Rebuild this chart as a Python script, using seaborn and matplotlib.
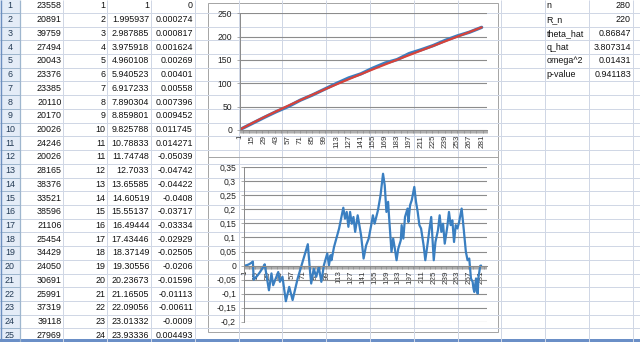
import matplotlib
matplotlib.use("Agg")
import matplotlib.pyplot as plt
from matplotlib.patches import Rectangle
import seaborn as sns

# spreadsheet columns (rows 1-25)
row_numbers = list(range(1, 26))
col_a = [23558, 20891, 39759, 27494, 20043, 23376, 23385, 20110, 20170, 20026, 24246, 20026,
         28165, 38376, 33521, 38596, 21106, 25454, 34429, 24050, 30691, 25991, 37319, 39118, 27969]
col_b = [1, 2, 3, 4, 5, 6, 7, 8, 9, 10, 11, 11, 12, 13, 14, 15, 16, 17, 18, 19, 20, 21, 22, 23, 24]
col_c = ["1", "1.995937", "2.987885", "3.975918", "4.960108", "5.940523", "6.917233", "7.890304",
         "8.859801", "9.825788", "10.78833", "11.74748", "12.7033", "13.65585", "14.60519",
         "15.55137", "16.49444", "17.43446", "18.37149", "19.30556", "20.23673", "21.16505",
         "22.09056", "23.01332", "23.93336"]
col_d = ["0", "0.000274", "0.000817", "0.001624", "0.00269", "0.00401", "0.00558", "0.007396",
         "0.009452", "0.011745", "0.014271", "-0.05039", "-0.04742", "-0.04422", "-0.0408",
         "-0.03717", "-0.03334", "-0.02929", "-0.02505", "-0.0206", "-0.01596", "-0.01113",
         "-0.00611", "-0.0009", "0.004493"]

stat_names = ["n", "R_n", "theta_hat", "q_hat", "omega^2", "p-value"]
stat_values = ["280", "220", "0.86847", "3.807314", "0.01431", "0.941183"]

# top chart (read at the labelled categories)
top_idx = [1, 15, 29, 43, 57, 71, 85, 99, 113, 127, 141, 155, 169, 183, 197, 211, 225, 239, 253, 267, 281]
expected_vals = [1, 14.6, 27.5, 40.0, 52.2, 64.0, 75.6, 86.9, 98.0, 108.8, 119.5, 130.0,
                 140.3, 150.4, 160.4, 170.4, 180.3, 190.2, 200.1, 210.0, 219.9]
observed_vals = [1, 13.9, 26.9, 39.3, 50.4, 64.0, 75.0, 87.5, 99.9, 111.5, 120.2, 132.5,
                 143.3, 150.8, 163.7, 171.9, 181.0, 192.1, 201.6, 209.6, 219.9]

# bottom chart: first 25 rows from column E, rest
diff_idx = row_numbers + [
    30, 33, 35, 41, 43, 46, 50, 54, 58, 64, 76, 79, 80, 83, 86, 89, 92, 95, 99, 101, 103, 104,
    107, 113, 118, 120, 122, 124, 126, 128, 130, 132, 135, 137, 139, 142, 145, 148, 151, 153,
    155, 159, 162, 165, 167, 169, 171, 172, 175, 177, 179, 181, 183, 186, 187, 189, 191, 194,
    195, 197, 199, 202, 204, 206, 208, 210, 213, 215, 218, 220, 222, 225, 227, 230, 232, 234,
    236, 238, 241, 243, 245, 247, 249, 251, 253, 255, 258, 260, 263, 265, 267, 269, 271, 272,
    273, 275, 276, 277, 278, 280, 281]
diff_vals = [float(v) for v in col_d] + [
    -0.088, -0.028, -0.070, -0.023, -0.058, -0.040, -0.127, -0.076, -0.123, -0.046, 0.076,
    -0.034, -0.064, -0.011, -0.040, -0.005, -0.058, 0.001, 0.043, 0.001, 0.037, 0.019,
    0.066, 0.132, 0.206, 0.167, 0.191, 0.138, 0.191, 0.149, 0.173, 0.120, 0.179, 0.144,
    0.108, 0.025, 0.072, 0.096, 0.144, 0.179, 0.149, 0.197, 0.250, 0.327, 0.286, 0.191,
    0.227, 0.179, 0.049, 0.096, 0.060, 0.019, 0.060, 0.090, 0.144, 0.096, 0.173, 0.203,
    0.155, 0.215, 0.233, 0.280, 0.227, 0.191, 0.144, 0.132, 0.072, 0.019, 0.084, 0.132,
    0.173, 0.019, 0.084, 0.126, 0.179, 0.120, 0.149, 0.078, 0.138, 0.191, 0.144, 0.161,
    0.084, 0.144, 0.132, 0.155, 0.203, 0.144, 0.049, 0.019, 0.025, -0.046, -0.058, -0.082,
    -0.094, -0.046, -0.088, -0.100, -0.040, -0.001, 0.0]

x_tick_pos = list(range(1, 282, 14))
x_tick_labels = [str(v) for v in x_tick_pos]
top_yticks = [0, 50, 100, 150, 200, 250]
bot_yticks = [-0.2, -0.15, -0.1, -0.05, 0, 0.05, 0.1, 0.15, 0.2, 0.25, 0.3, 0.35]
bot_ylabels = ["-0,2", "-0,15", "-0,1", "-0,05", "0", "0,05", "0,1", "0,15", "0,2", "0,25", "0,3", "0,35"]
n_categories = 287

BLUE = "#3a7fc1"
RED = "#d8433a"
GRID = "#8c8c8c"
SHEET_GRID = "#d0d7e5"
TXT = "#111111"

W, H = 640, 342
ROW_H = 13.72
ROW0 = 6.0
COL_EDGES = [19.5 + 43.8 * k for k in range(15)]

sns.set_theme(style="white")
plt.rcParams["font.family"] = ["Liberation Sans", "DejaVu Sans"]

fig = plt.figure(figsize=(W / 100, H / 100), dpi=100)


def px_axes(left, top, right, bottom):
    return fig.add_axes([left / W, 1 - bottom / H, (right - left) / W, (bottom - top) / H])


# spreadsheet background
sheet = fig.add_axes([0, 0, 1, 1])
sheet.set_xlim(0, W)
sheet.set_ylim(H, 0)
sheet.axis("off")
sheet.add_patch(Rectangle((0, 0), 19.5, H, facecolor="#e4ecf7", edgecolor="none"))
for k in range(27):
    y = ROW0 - ROW_H / 2 + ROW_H * k
    sheet.hlines(y, 19.5, W, color=SHEET_GRID, lw=0.72)
    sheet.hlines(y, 0, 19.5, color="#9eb6ce", lw=0.72)
for x in COL_EDGES[1:]:
    sheet.vlines(x, 0, H, color=SHEET_GRID, lw=0.72)
sheet.vlines(19.5, 0, H, color="#9eb6ce", lw=0.9)
sheet.vlines(0.6, 0, H, color="#6d8fbf", lw=1.0)
sheet.add_patch(Rectangle((0, 339), W, 3, facecolor="#6a8fc7", edgecolor="none"))

fs = 6.4
for i, r in enumerate(row_numbers):
    y = ROW0 + ROW_H * i
    sheet.text(10, y, str(r), ha="center", va="center", fontsize=fs, color="#243b55")
    sheet.text(61.5, y, str(col_a[i]), ha="right", va="center", fontsize=fs, color=TXT)
    sheet.text(105.5, y, str(col_b[i]), ha="right", va="center", fontsize=fs, color=TXT)
    sheet.text(149.3, y, col_c[i], ha="right", va="center", fontsize=fs, color=TXT)
    sheet.text(193.0, y, col_d[i], ha="right", va="center", fontsize=fs, color=TXT)
for i, (name, val) in enumerate(zip(stat_names, stat_values)):
    y = ROW0 + ROW_H * i
    sheet.text(546.5, y, name, ha="left", va="center", fontsize=fs, color=TXT)
    sheet.text(631.0, y, val, ha="right", va="center", fontsize=fs, color=TXT)

# chart frame
sheet.add_patch(Rectangle((207.5, 3), 290, 328.7, facecolor="white", edgecolor="#a6a6a6", lw=0.72))
sheet.hlines(156.7, 207.5, 497.5, color="#a6a6a6", lw=0.72)


def style_axis(ax):
    ax.set_facecolor("none")
    for s in ("top", "right"):
        ax.spines[s].set_visible(False)
    for s in ("left", "bottom"):
        ax.spines[s].set_color(GRID)
        ax.spines[s].set_linewidth(0.72)
    ax.yaxis.grid(True, color=GRID, lw=0.8)
    ax.xaxis.grid(False)
    ax.set_axisbelow(True)
    ax.set_xticks(x_tick_pos)
    ax.set_xticklabels(x_tick_labels, rotation=90, fontsize=5.8, color="#333333")
    ax.set_xticks(list(range(1, n_categories + 1)), minor=True)
    ax.tick_params(axis="x", which="both", direction="out", length=2.4, width=0.5,
                   color=GRID, pad=1.2, bottom=True)
    ax.tick_params(axis="y", direction="out", length=2.2, width=0.5, color=GRID, pad=3.5,
                   labelsize=6.2, labelcolor="#222222", left=True)
    ax.set_xlabel("")
    ax.set_ylabel("")


# top chart
ax_top = px_axes(240, 13.3, 487, 130)
sns.lineplot(x=top_idx, y=observed_vals, ax=ax_top, color=BLUE, lw=2.4, estimator=None)
sns.lineplot(x=top_idx, y=expected_vals, ax=ax_top, color=RED, lw=1.6, estimator=None)
ax_top.set_xlim(1, 287.2)
ax_top.set_ylim(0, 250)
ax_top.set_yticks(top_yticks)
ax_top.set_yticklabels([str(v) for v in top_yticks])
style_axis(ax_top)

# bottom chart (category axis crosses at zero)
ax_bot = px_axes(244, 167.3, 487, 321.7)
ax_bot.spines["bottom"].set_position(("data", 0))
sns.lineplot(x=diff_idx, y=diff_vals, ax=ax_bot, color=BLUE, lw=1.6, estimator=None)
ax_bot.set_xlim(0.5, 288)
ax_bot.set_ylim(-0.2, 0.35)
ax_bot.set_yticks(bot_yticks)
ax_bot.set_yticklabels(bot_ylabels)
style_axis(ax_bot)

fig.savefig("out.png", dpi=100)
plt.close(fig)
